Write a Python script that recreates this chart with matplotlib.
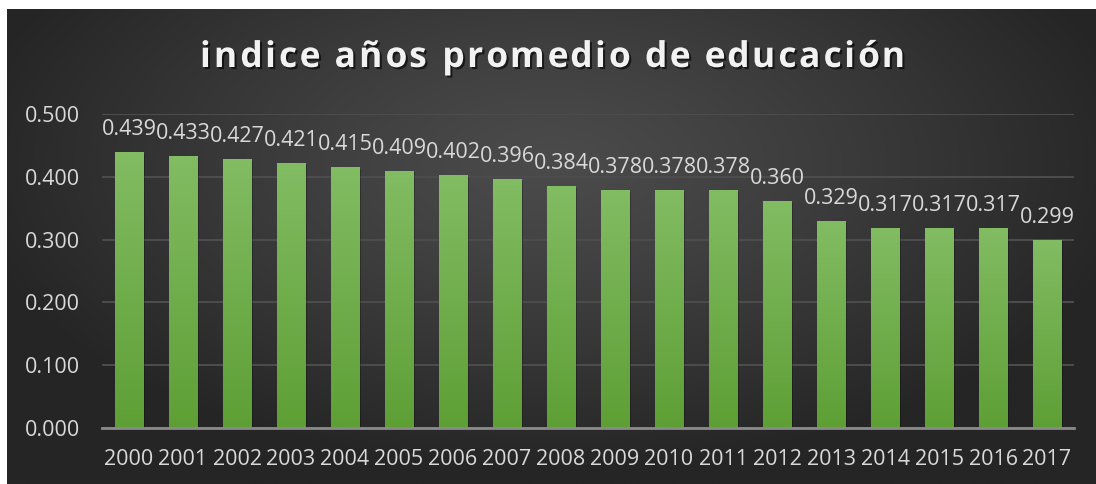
import numpy as np
import matplotlib
matplotlib.use("Agg")
import matplotlib.pyplot as plt
from matplotlib import patheffects
from matplotlib.colors import LinearSegmentedColormap
from matplotlib.font_manager import FontProperties

years = ["2000", "2001", "2002", "2003", "2004", "2005", "2006", "2007", "2008",
         "2009", "2010", "2011", "2012", "2013", "2014", "2015", "2016", "2017"]
values = [0.439, 0.433, 0.427, 0.421, 0.415, 0.409, 0.402, 0.396, 0.384,
          0.378, 0.378, 0.378, 0.360, 0.329, 0.317, 0.317, 0.317, 0.299]
title = "indice años promedio de educación"

W, H = 1096, 484
fig = plt.figure(figsize=(W / 100, H / 100), dpi=100)
fig.patch.set_facecolor("white")

# dark radial background
bg = fig.add_axes([7 / W, 0, (W - 7) / W, (H - 9) / H])
yy, xx = np.mgrid[-1:1:300j, -1:1:600j]
r = np.clip(np.sqrt(((xx - 0.0) / 1.1) ** 2 + ((yy + 0.35) / 1.3) ** 2), 0, 1)
c0 = np.array([0x4b, 0x4b, 0x4b]) / 255
c1 = np.array([0x25, 0x25, 0x25]) / 255
img = c0 + (c1 - c0) * r[..., None] ** 1.2
bg.imshow(img, aspect="auto", extent=[0, 1, 0, 1])
bg.axis("off")

ax = fig.add_axes([102 / W, 56 / H, 972 / W, 314 / H])
ax.patch.set_alpha(0)

x = np.arange(len(years))
bars = ax.bar(x, values, width=0.52, color="none", zorder=3)
cmap = LinearSegmentedColormap.from_list("g", ["#5e9f35", "#82bc63"])
grad = np.linspace(0, 1, 256).reshape(-1, 1)
for b in bars:
    x0, w, h = b.get_x(), b.get_width(), b.get_height()
    # soft shadow to the right
    ax.add_patch(plt.Rectangle((x0 + 0.04, 0), w, h - 0.002, color="black",
                               alpha=0.25, lw=0, zorder=2))
    ax.imshow(grad, extent=[x0, x0 + w, 0, h], origin="lower", cmap=cmap,
              aspect="auto", zorder=3)

for xi, v in zip(x, values):
    ax.annotate(f"{v:.3f}", (xi, v), xytext=(0, 9), textcoords="offset points",
                ha="center", va="bottom", color="#d9d9d9", fontsize=15.5,
                family="Open Sans", zorder=4)

ax.set_xlim(-0.5, len(years) - 0.5)
ax.set_ylim(0, 0.5)
ax.set_yticks(np.arange(0, 0.51, 0.1))
ax.set_yticklabels([f"{t:.3f}" for t in np.arange(0, 0.51, 0.1)])
ax.set_xticks(x)
ax.set_xticklabels(years)
ax.tick_params(length=0, colors="#d9d9d9", labelsize=15.5)
ax.tick_params(axis="y", pad=16)
ax.tick_params(axis="x", pad=15)
for lbl in ax.get_xticklabels() + ax.get_yticklabels():
    lbl.set_family("Open Sans")
ax.grid(axis="y", color="#4d4d4d", lw=1.4, zorder=1)
ax.set_axisbelow(True)
for s in ["top", "right", "left"]:
    ax.spines[s].set_visible(False)
ax.spines["bottom"].set_color("#8a8a8a")
ax.spines["bottom"].set_linewidth(2)
ax.spines["bottom"].set_zorder(5)

# letter-spaced title
fp = FontProperties(family="Open Sans", weight="bold", size=25.5)
rend = fig.canvas.get_renderer()
def tw(s):
    return rend.get_text_width_height_descent(s, fp, ismath=False)[0]
base = tw("xx")
widths = [tw("x" + c + "x") - base for c in title]
left, right = 200, 905
spacing = (right - left - sum(widths)) / (len(title) - 1)
pos = left
shadow = [patheffects.withSimplePatchShadow(offset=(1.5, -1.5), shadow_rgbFace="black", alpha=0.6)]
for c, wc in zip(title, widths):
    fig.text(pos / W, (H - 67) / H, c, fontproperties=fp, color="#f2f2f2",
             ha="left", va="baseline", path_effects=shadow)
    pos += wc + spacing

fig.savefig("out.png", dpi=100)
